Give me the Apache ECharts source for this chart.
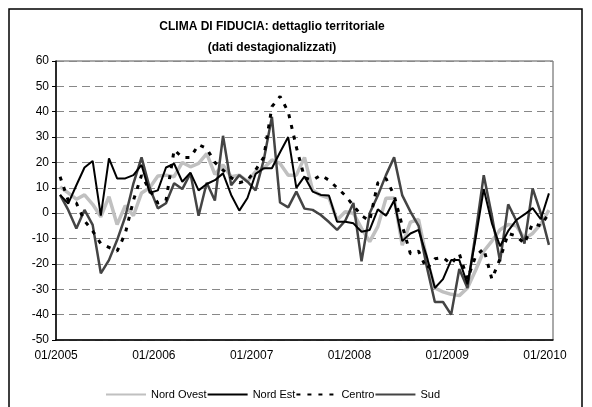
<!DOCTYPE html>
<html>
<head>
<meta charset="utf-8">
<script src="https://cdn.jsdelivr.net/npm/echarts@6/dist/echarts.min.js"></script>
<style>
  html, body { margin: 0; padding: 0; background: #fff; }
  #main { width: 592px; height: 407px; }
</style>
</head>
<body>
<div id="main"></div>
<script>
// mesi 01/2005 - 01/2010
var months = [];
for (var y = 2005; y <= 2010; y++) {
  for (var m = 1; m <= 12; m++) {
    if (y === 2010 && m > 1) break;
    months.push((m < 10 ? '0' + m : '' + m) + '/' + y);
  }
}

var nordOvest = [10.4, 8, 5.5, 7.2, 3.5, -1.4, 6.5, -4.5, 3, -1, 8, 10,
  14.7, 15, 14.4, 20, 18.3, 19.6, 23.5, 15.3, 19, 14.4, 15, 12.5,
  16.4, 17.7, 21, 19.6, 15, 15, 22, 9, 7, 6, -2.7, 0.6,
  0, -6, -11.2, -5.3, 5.9, 6, -12.6, -3.5, -2.5, -18, -29.5, -31,
  -32, -32.5, -29.5, -22.5, -15, -11, -6.5, -4.5, -5, -10, -8, -4.3,
  1.2];
var nordEst = [7.2, 3.8, 11, 18, 20.6, -1, 21.6, 13.7, 13.7, 15, 19, 8,
  9, 18, 19.5, 12.4, 16, 9, 11.5, 13, 15.7, 7.2, 1, 6,
  15.5, 17.7, 17.7, 24, 30, 10, 14.5, 8.5, 7.2, 7, -3.4, -3.4,
  -4, -7.3, -6.6, 1.5, -1, 5, -11, -8, -6.6, -17, -29.5, -26,
  -18.5, -18.5, -28, -10, 9.5, -4, -13, -7, -2.7, -0.5, 2, -2.4,
  7.8];
var centro = [14.4, 5, 4, -3, -7, -12, -13.5, -15, -8, 5, 15, 9,
  4, 5, 25, 22, 22, 27, 25.5, 20, 17, 14, 12, 13,
  17, 22, 42, 46, 40, 26, 14, 13, 15, 13, 10, 7,
  3, -1, -3, 12, 13.7, 7, -5, -16, -15, -22, -18, -17.5,
  -20, -16, -26, -17, -14, -26, -18, -8, -9, -12, -4, -5,
  0];
var sud = [7.2, 1.3, -6, 1.3, -4.6, -23.7, -18.5, -10.6, -1.4, 11.7, 22, 10,
  1.9, 3.9, 11.8, 9.5, 15.7, -1, 12, 5, 30.5, 11, 15, 12.4,
  9, 21, 38, 4.2, 2.3, 8.5, 1.8, 1.3, -0.7, -3.5, -6.6, -3,
  4, -19, 0, 7, 15, 22, 7, 0.6, -5, -21, -35, -35,
  -40, -22, -29.5, -8, 15, -1, -19, 3.5, -3, -12, 9.8, 0,
  -12.5];

var chart = echarts.init(document.getElementById('main'), null, { renderer: 'canvas' });

var font = 'Liberation Sans, Arial, sans-serif';

var option = {
  animation: false,
  backgroundColor: '#fff',
  textStyle: { fontFamily: font },
  title: {
    text: 'CLIMA DI FIDUCIA: dettaglio territoriale\n(dati destagionalizzati)',
    left: 267,
    top: 11,
    textAlign: 'center',
    textStyle: {
      fontFamily: font,
      fontSize: 12,
      fontWeight: 'bold',
      color: '#000',
      lineHeight: 21
    }
  },
  legend: {
    data: ['Nord Ovest', 'Nord Est', 'Centro', 'Sud'],
    left: 100,
    top: 384,
    itemWidth: 40,
    itemHeight: 6,
    itemGap: 0,
    itemStyle: { opacity: 0 },
    textStyle: { fontFamily: font, fontSize: 11, color: '#000' }
  },
  graphic: [{
    type: 'rect',
    shape: { x: 9, y: 9, width: 573, height: 403 },
    style: { fill: 'none', stroke: '#000', lineWidth: 1.5 },
    silent: true
  }],
  grid: {
    left: 56,
    right: 39,
    top: 61,
    bottom: 67,
    show: true,
    borderColor: '#555',
    borderWidth: 1
  },
  xAxis: {
    type: 'category',
    data: months,
    boundaryGap: true,
    axisLine: { onZero: false, lineStyle: { color: '#000', width: 1.5 } },
    axisTick: {
      interval: function (i) { return i % 12 === 0; },
      length: 5,
      lineStyle: { color: '#000' }
    },
    axisLabel: {
      interval: function (i) { return i % 12 === 0; },
      color: '#000',
      fontSize: 12,
      fontFamily: font,
      margin: 10,
      padding: [0, 8, 0, 0]
    },
    splitLine: { show: false }
  },
  yAxis: {
    type: 'value',
    min: -50,
    max: 60,
    interval: 10,
    axisLine: { show: true, lineStyle: { color: '#000', width: 1.5 } },
    axisTick: { show: true, length: 4, lineStyle: { color: '#000' } },
    axisLabel: { color: '#000', fontSize: 12, fontFamily: font, margin: 7 },
    splitLine: { lineStyle: { color: '#888', type: [8, 5], width: 1 } }
  },
  series: [
    {
      name: 'Nord Ovest',
      type: 'line',
      data: nordOvest,
      symbol: 'none',
      itemStyle: { color: '#c0c0c0' },
      lineStyle: { color: '#c0c0c0', width: 3.5 },
      z: 1
    },
    {
      name: 'Nord Est',
      type: 'line',
      data: nordEst,
      symbol: 'none',
      itemStyle: { color: '#000' },
      lineStyle: { color: '#000', width: 2 },
      z: 3
    },
    {
      name: 'Centro',
      type: 'line',
      data: centro,
      symbol: 'none',
      itemStyle: { color: '#000' },
      lineStyle: { color: '#000', width: 3, type: [4, 7] },
      z: 4
    },
    {
      name: 'Sud',
      type: 'line',
      data: sud,
      symbol: 'none',
      itemStyle: { color: '#444' },
      lineStyle: { color: '#444', width: 2.5 },
      z: 2
    }
  ]
};

chart.setOption(option);
</script>
</body>
</html>
